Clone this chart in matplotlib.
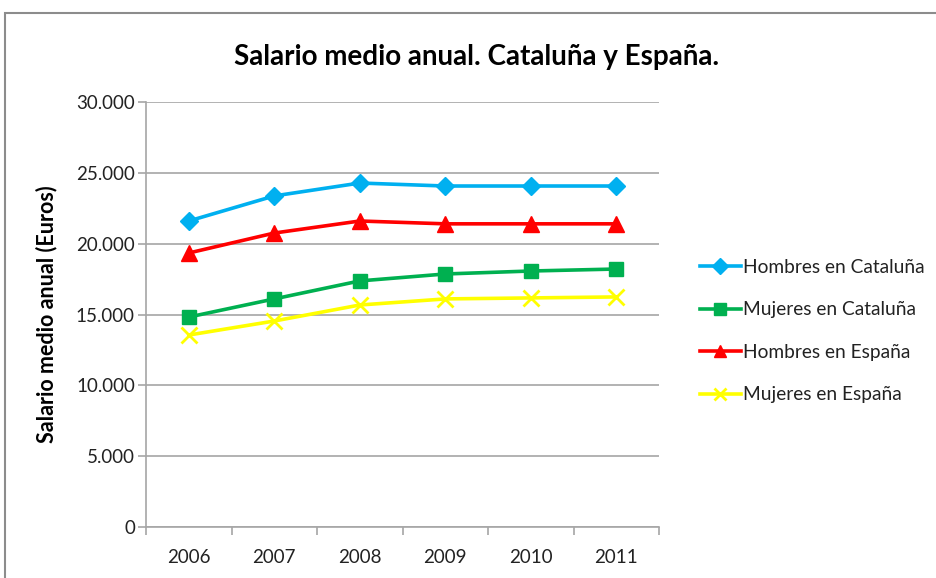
import matplotlib.pyplot as plt
from matplotlib.patches import Rectangle
from matplotlib.ticker import FuncFormatter, FixedLocator

# Datos
years = ['2006', '2007', '2008', '2009', '2010', '2011']
hombres_cat = [21600, 23370, 24280, 24070, 24070, 24070]
mujeres_cat = [14820, 16100, 17370, 17860, 18070, 18210]
hombres_esp = [19340, 20750, 21600, 21400, 21400, 21400]
mujeres_esp = [13550, 14540, 15670, 16100, 16170, 16240]

plt.rcParams['font.family'] = ['Lato', 'DejaVu Sans']

fig = plt.figure(figsize=(9.36, 5.78), dpi=100)
fig.patch.set_facecolor('white')

# borde del área del gráfico
fig.patches.append(Rectangle((5/936, -0.1), 1.2, (578-13)/578 + 0.1,
                             transform=fig.transFigure, facecolor='none',
                             edgecolor='#8c8c8c', linewidth=1.5))

ax = fig.add_axes([146/936, 51/578, 513/936, 425/578])
x = list(range(len(years)))

ax.plot(x, hombres_cat, color='#00B0F0', lw=2.6, marker='D', ms=9.5,
        label='Hombres en Cataluña', zorder=4)
ax.plot(x, mujeres_cat, color='#00B050', lw=2.6, marker='s', ms=10.5,
        label='Mujeres en Cataluña', zorder=4)
ax.plot(x, hombres_esp, color='#FF0000', lw=2.6, marker='^', ms=11,
        label='Hombres en España', zorder=4)
ax.plot(x, mujeres_esp, color='#FFFF00', lw=2.6, marker='x', ms=11, mew=2,
        label='Mujeres en España', zorder=4)

ax.set_xlim(-0.5, len(years) - 0.5)
ax.set_ylim(0, 30000)
ax.set_yticks(range(0, 30001, 5000))
ax.yaxis.set_major_formatter(FuncFormatter(
    lambda v, p: f'{int(v):,}'.replace(',', '.')))
ax.grid(axis='y', color='#a6a6a6', lw=1.2)
ax.set_axisbelow(True)

ax.set_xticks(x)
ax.set_xticklabels(years)
ax.xaxis.set_minor_locator(FixedLocator([i - 0.5 for i in range(len(years) + 1)]))
ax.tick_params(axis='x', which='major', length=0, pad=16, labelsize=13.5,
               labelcolor='#222222')
ax.tick_params(axis='x', which='minor', length=6, color='#a6a6a6', width=1.2)
ax.tick_params(axis='y', length=6, color='#a6a6a6', width=1.2, labelsize=13.5,
               pad=2, labelcolor='#222222')

for s in ['top', 'right']:
    ax.spines[s].set_visible(False)
for s in ['left', 'bottom']:
    ax.spines[s].set_color('#a6a6a6')
    ax.spines[s].set_linewidth(1.2)

ax.set_ylabel('Salario medio anual (Euros)', fontsize=15.5, fontweight='bold')
ax.yaxis.set_label_coords(-89 / 513, 0.5)

fig.text(477/936, 1 - 57/578, 'Salario medio anual. Cataluña y España.',
         ha='center', va='center', fontsize=20, fontweight='bold')

fig.legend(loc='center left', bbox_to_anchor=(683/936, 1 - 331/578),
           frameon=False, fontsize=13.8, handlelength=2.1, handletextpad=0.15,
           labelspacing=1.33, markerscale=0.85, labelcolor='#222222')

plt.savefig('out.png', dpi=100, facecolor='white')
